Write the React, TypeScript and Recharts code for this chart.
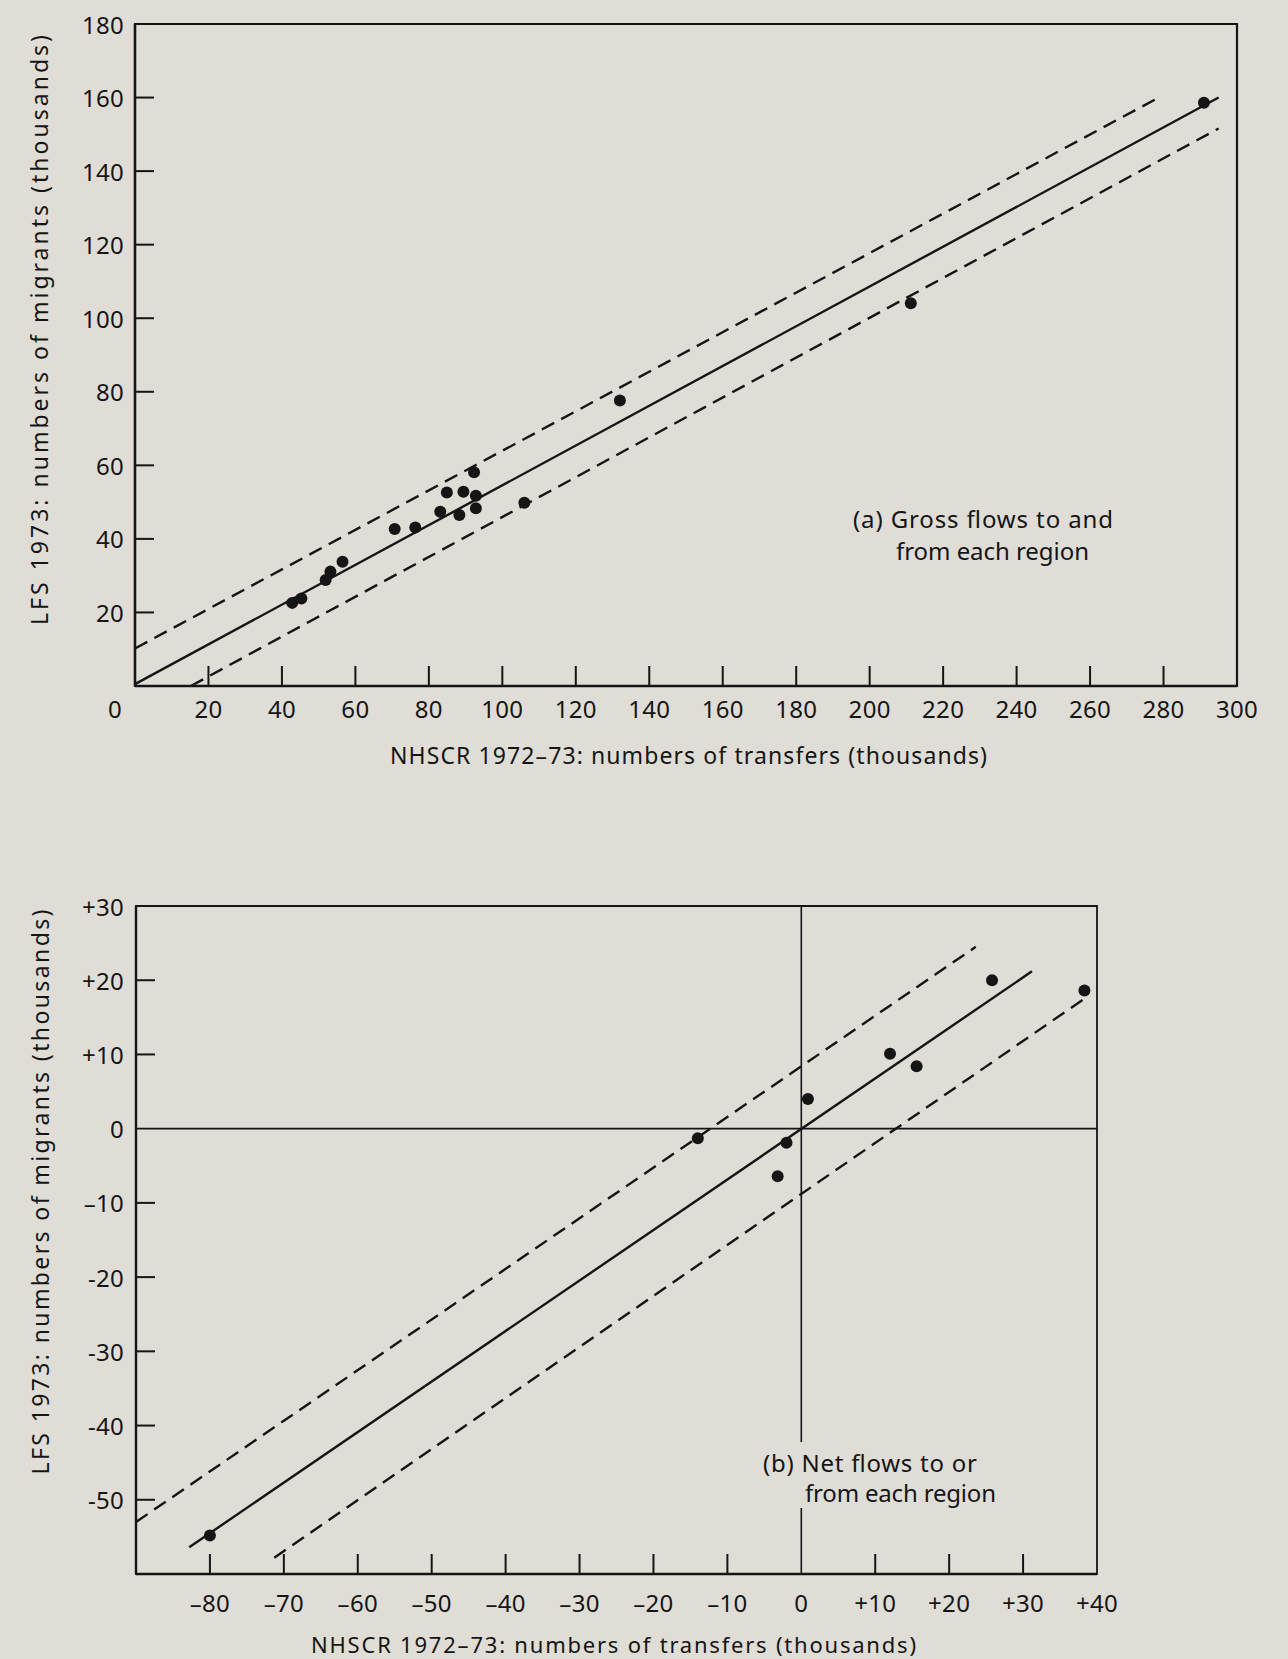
import { ScatterChart, Scatter, XAxis, YAxis, ReferenceLine, ReferenceArea } from "recharts"

const PAPER = "#dfddd6"
const INK = "#151515"
const FONT = '"Noto Sans", "DejaVu Sans", sans-serif'

// (a) gross flows to and from each region, thousands
const grossTransfers = [42.8, 45.3, 51.9, 53.2, 56.5, 70.7, 76.3, 83.1, 84.9, 88.3, 89.4, 92.3, 92.8, 92.8, 106, 132, 211.2, 291]
const grossMigrants = [22.6, 23.8, 28.8, 31.1, 33.8, 42.7, 43.1, 47.4, 52.6, 46.5, 52.8, 58.1, 51.7, 48.3, 49.8, 77.6, 104.1, 158.6]

// (b) net flows to or from each region, thousands
const netTransfers = [25.8, 38.3, 12.0, 15.6, 0.9, -14.0, -2.0, -3.2, -80]
const netMigrants = [20.0, 18.6, 10.1, 8.4, 4.0, -1.3, -1.9, -6.4, -54.8]

// regression line and its limits as drawn: [x1, y1, x2, y2]
const grossFit = [0, 0.5, 295, 160]
const grossUpper = [0, 10.2, 278.3, 159.8]
const grossLower = [15.2, 0, 295, 151.6]
const netFit = [-82.8, -56.4, 31.2, 21.2]
const netUpper = [-90, -53, 23.6, 24.5]
const netLower = [-71.3, -57.8, 38.7, 17.8]

const grossXTicks = [0, 20, 40, 60, 80, 100, 120, 140, 160, 180, 200, 220, 240, 260, 280, 300]
const grossYTicks = [20, 40, 60, 80, 100, 120, 140, 160, 180]
const netXTicks = [-80, -70, -60, -50, -40, -30, -20, -10, 0, 10, 20, 30, 40]
const netXLabels = ["–80", "–70", "–60", "–50", "–40", "–30", "–20", "–10", "0", "+10", "+20", "+30", "+40"]
const netYTicks = [30, 20, 10, 0, -10, -20, -30, -40, -50]
const netYLabels = ["+30", "+20", "+10", "0", "–10", "-20", "-30", "-40", "-50"]

const grossPoints = grossTransfers.map((x, i) => ({ x, y: grossMigrants[i] }))
const netPoints = netTransfers.map((x, i) => ({ x, y: netMigrants[i] }))

const seg = (s: number[]) => [{ x: s[0], y: s[1] }, { x: s[2], y: s[3] }]

function xTick(ticks: number[], labels: string[] | null, noMark: number[], dy: number, nudge: Record<number, number> = {}) {
  return (props: any) => {
    const { x, y, payload } = props
    const v = payload.value
    const i = ticks.indexOf(v)
    return (
      <g>
        {!noMark.includes(v) && <line x1={x} x2={x} y1={y} y2={y - 20} stroke={INK} strokeWidth={2} />}
        <text x={x + (nudge[v] || 0)} y={y + dy} textAnchor="middle" dominantBaseline="central"
          fill={INK} fontSize={24} fontFamily={FONT} letterSpacing={0.3}>
          {labels ? labels[i] : String(v)}
        </text>
      </g>
    )
  }
}

function yTick(ticks: number[], labels: string[] | null, noMark: number[], dx: number) {
  return (props: any) => {
    const { x, y, payload } = props
    const v = payload.value
    const i = ticks.indexOf(v)
    return (
      <g>
        {!noMark.includes(v) && <line x1={x} x2={x + 19} y1={y} y2={y} stroke={INK} strokeWidth={2} />}
        <text x={x - dx} y={y} textAnchor="end" dominantBaseline="central"
          fill={INK} fontSize={24} fontFamily={FONT} letterSpacing={0.3}>
          {labels ? labels[i] : String(v)}
        </text>
      </g>
    )
  }
}

const dot = (props: any) => <circle cx={props.cx} cy={props.cy} r={6} fill={INK} />

const axisLine = { stroke: INK, strokeWidth: 2.4 }
const dash = "14 8"

function GrossChart() {
  return (
    <ScatterChart width={1288} height={740} margin={{ top: 24, right: 51, bottom: 14, left: 75 }}>
      <XAxis type="number" dataKey="x" domain={[0, 300]} ticks={grossXTicks} interval={0} allowDataOverflow
        height={40} tickSize={0} tickMargin={0} tickLine={false} axisLine={axisLine}
        tick={xTick(grossXTicks, null, [0, 300], 22, { 0: -20 })} />
      <YAxis type="number" dataKey="y" domain={[0, 180]} ticks={grossYTicks} interval={0} allowDataOverflow
        width={60} tickSize={0} tickMargin={0} tickLine={false} axisLine={axisLine}
        tick={yTick(grossYTicks, null, [180], 11)} />
      <ReferenceArea x1={0} x2={300} y1={0} y2={180} fill="none" stroke={INK} strokeWidth={2.2} />
      <ReferenceLine segment={seg(grossFit)} stroke={INK} strokeWidth={2.4} />
      <ReferenceLine segment={seg(grossUpper)} stroke={INK} strokeWidth={2.4} strokeDasharray={dash} />
      <ReferenceLine segment={seg(grossLower)} stroke={INK} strokeWidth={2.4} strokeDasharray={dash} />
      <Scatter data={grossPoints} shape={dot} isAnimationActive={false} />
    </ScatterChart>
  )
}

function NetChart() {
  return (
    <ScatterChart width={1288} height={740} margin={{ top: 26, right: 191, bottom: 6, left: 76 }}>
      <XAxis type="number" dataKey="x" domain={[-90, 40]} ticks={netXTicks} interval={0} allowDataOverflow
        height={40} tickSize={0} tickMargin={0} tickLine={false} axisLine={axisLine}
        tick={xTick(netXTicks, netXLabels, [0, 40], 28)} />
      <YAxis type="number" dataKey="y" domain={[-60, 30]} ticks={netYTicks} interval={0} allowDataOverflow
        width={60} tickSize={0} tickMargin={0} tickLine={false} axisLine={axisLine}
        tick={yTick(netYTicks, netYLabels, [30, 0], 12)} />
      <ReferenceArea x1={-90} x2={40} y1={-60} y2={30} fill="none" stroke={INK} strokeWidth={1.8} />
      <ReferenceLine x={0} stroke={INK} strokeWidth={1.6} />
      <ReferenceLine y={0} stroke={INK} strokeWidth={1.6} />
      <ReferenceLine segment={seg(netFit)} stroke={INK} strokeWidth={2.4} />
      <ReferenceLine segment={seg(netUpper)} stroke={INK} strokeWidth={2.4} strokeDasharray={dash} />
      <ReferenceLine segment={seg(netLower)} stroke={INK} strokeWidth={2.4} strokeDasharray={dash} />
      <Scatter data={netPoints} shape={dot} isAnimationActive={false} />
    </ScatterChart>
  )
}

const txt = { fill: INK, fontFamily: FONT, fontSize: 23, lengthAdjust: "spacing" as const }

export default function App() {
  return (
    <div style={{ position: "absolute", left: 0, top: 0, width: 1288, height: 1659, background: PAPER, overflow: "hidden" }}>
      <div style={{ position: "absolute", left: 0, top: 0 }}>
        <GrossChart />
      </div>
      <div style={{ position: "absolute", left: 0, top: 880 }}>
        <NetChart />
      </div>
      <svg width={1288} height={1659} style={{ position: "absolute", left: 0, top: 0, pointerEvents: "none" }}>
        <text {...txt} x={390} y={755} dominantBaseline="central" textLength={597}>NHSCR 1972–73: numbers of transfers (thousands)</text>
        <text {...txt} transform="translate(39, 330) rotate(-90)" textAnchor="middle" dominantBaseline="central" textLength={590}>LFS 1973: numbers of migrants (thousands)</text>
        <text {...txt} x={853} y={518} dominantBaseline="central" fontSize={24} textLength={260}>(a) Gross flows to and</text>
        <text {...txt} x={896} y={550} dominantBaseline="central" fontSize={24} textLength={193}>from each region</text>

        <text {...txt} x={311} y={1644} dominantBaseline="central" fontSize={22} textLength={605}>NHSCR 1972–73: numbers of transfers (thousands)</text>
        <text {...txt} transform="translate(40, 1192) rotate(-90)" textAnchor="middle" dominantBaseline="central" textLength={565}>LFS 1973: numbers of migrants (thousands)</text>
        <rect x={758} y={1442} width={244} height={66} fill={PAPER} />
        <text {...txt} x={763} y={1462} dominantBaseline="central" fontSize={24} textLength={214}>(b) Net flows to or</text>
        <text {...txt} x={805} y={1492} dominantBaseline="central" fontSize={24} textLength={191}>from each region</text>
      </svg>
    </div>
  )
}
